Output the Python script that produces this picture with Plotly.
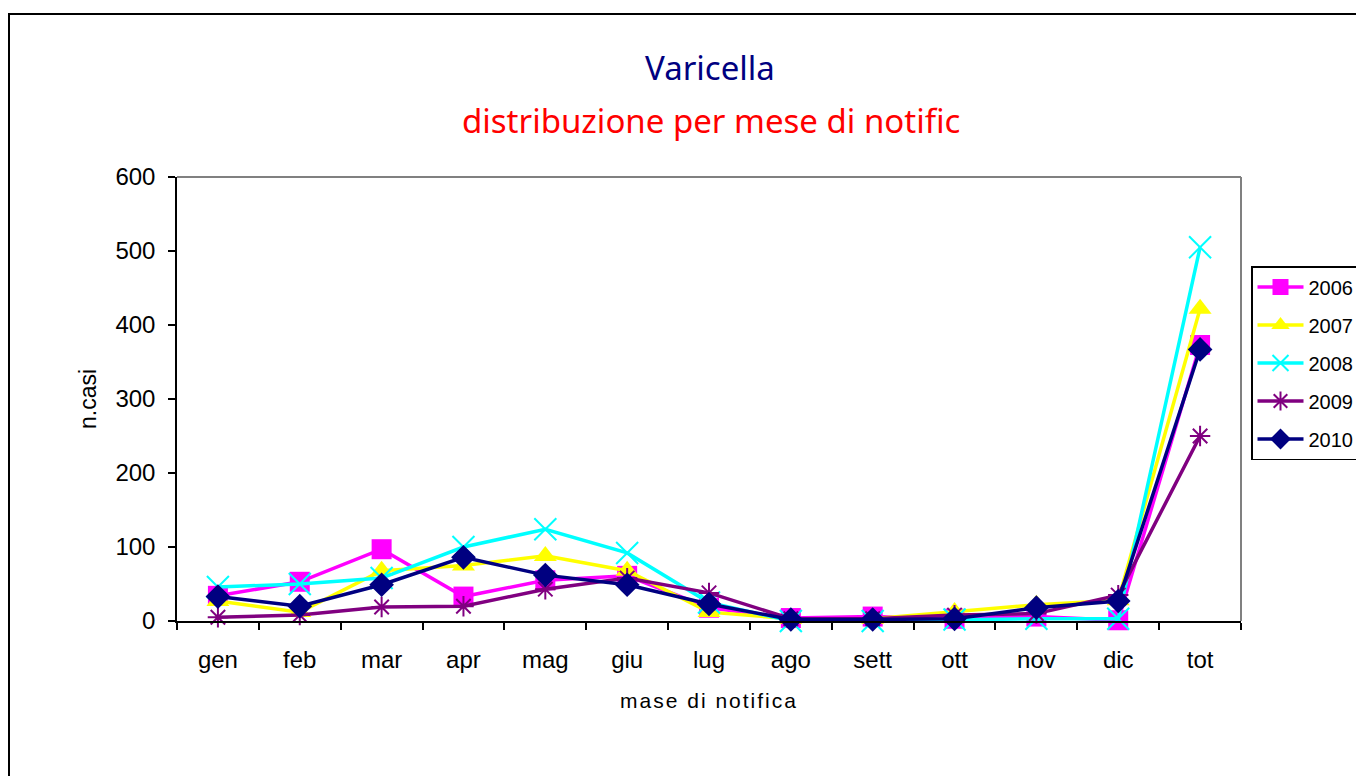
import plotly.graph_objects as go

months = ["gen", "feb", "mar", "apr", "mag", "giu", "lug", "ago", "sett", "ott", "nov", "dic", "tot"]
y2006 = [34, 53, 97, 33, 55, 61, 18, 4, 6, 3, 6, 1, 373]
y2007 = [27, 12, 68, 75, 88, 68, 12, 3, 3, 12, 22, 28, 422]
y2008 = [46, 50, 58, 100, 124, 92, 25, 0, 0, 2, 3, 3, 505]
y2009 = [5, 8, 19, 20, 43, 58, 38, 3, 3, 8, 10, 35, 250]
y2010 = [33, 20, 49, 86, 62, 49, 23, 2, 2, 3, 18, 27, 367]
years = ["2006", "2007", "2008", "2009", "2010"]

series = [
    (years[0], y2006, "#FF00FF", dict(symbol="square", size=20, color="#FF00FF")),
    (years[1], y2007, "#FFFF00", dict(symbol="triangle-up", size=20, color="#FFFF00")),
    (years[2], y2008, "#00FFFF", dict(symbol="x-thin-open", size=22, color="#00FFFF",
                                      line=dict(color="#00FFFF", width=2))),
    (years[3], y2009, "#800080", dict(symbol="asterisk-open", size=17, color="#800080",
                                      line=dict(color="#800080", width=2))),
    (years[4], y2010, "#000080", dict(symbol="diamond", size=19, color="#000080")),
]

fig = go.Figure()
for i, (name, ys, col, mk) in enumerate(series):
    fig.add_trace(go.Scatter(
        x=months, y=ys, name=name, mode="lines+markers",
        line=dict(color=col, width=3.5), marker=mk, cliponaxis=False,
        legendgroup=name,
    ))

OFF = 8  # page body offset
L, R, T, B = 177, 1241, 177, 621  # plot area in screen pixels
W, H = 1364 - OFF, 776 - OFF
pw, ph = R - L, B - T

def px(x):
    return (x - L) / pw

def py(y):
    return (B - y) / ph

fig.update_layout(
    width=W, height=H,
    margin=dict(l=L - OFF, r=W - (R - OFF), t=T - OFF, b=H - (B - OFF), autoexpand=False),
    paper_bgcolor="white", plot_bgcolor="white",
    font=dict(family="Liberation Sans, Arial, sans-serif", color="black"),
    showlegend=True,
    legend=dict(
        x=px(1251), y=py(266), xanchor="left", yanchor="top",
        bordercolor="black", borderwidth=1.5, bgcolor="white",
        font=dict(size=20, color="black"),
        tracegroupgap=9, itemwidth=46,
    ),
    xaxis=dict(
        type="category", tickson="boundaries", ticks="outside", ticklen=7,
        tickcolor="black", tickwidth=1.5,
        showline=True, linecolor="black", linewidth=1.5,
        showgrid=False, zeroline=False,
        tickfont=dict(size=24, color="black"),
        ticklabelstandoff=16,
        title=dict(text='<span style="letter-spacing:2px">mase di notifica</span>',
                   font=dict(size=21, color="black"), standoff=22),
        range=[-0.5, 12.5],
    ),
    yaxis=dict(
        range=[0, 600], dtick=100, ticks="outside", ticklen=7,
        tickcolor="black", tickwidth=1.5,
        showline=True, linecolor="black", linewidth=1.5,
        showgrid=False, zeroline=False,
        tickfont=dict(size=24, color="black"),
        ticklabelstandoff=8,
        title=dict(text="n.casi", font=dict(size=23, color="black"), standoff=12),
    ),
    annotations=[
        dict(text="Varicella", x=px(710), y=py(68), xref="paper", yref="paper",
             showarrow=False, xanchor="center", yanchor="middle",
             font=dict(size=33, color="#000080", family="Noto Sans, sans-serif")),
        dict(text="distribuzione per mese di notific", x=px(711), y=py(120),
             xref="paper", yref="paper", showarrow=False, xanchor="center", yanchor="middle",
             font=dict(size=33, color="#FF0000", family="Noto Sans, sans-serif")),
    ],
    shapes=[
        # outer chart border
        dict(type="rect", xref="paper", yref="paper",
             x0=px(9), x1=px(1400), y0=py(800), y1=py(14),
             line=dict(color="black", width=2), layer="below"),
        # plot-area gray top and right border
        dict(type="line", xref="paper", yref="paper", x0=0, x1=1, y0=1, y1=1,
             line=dict(color="#808080", width=2)),
        dict(type="line", xref="paper", yref="paper", x0=1, x1=1, y0=0, y1=1,
             line=dict(color="#808080", width=2)),
    ],
)

fig.write_html("out.html")
